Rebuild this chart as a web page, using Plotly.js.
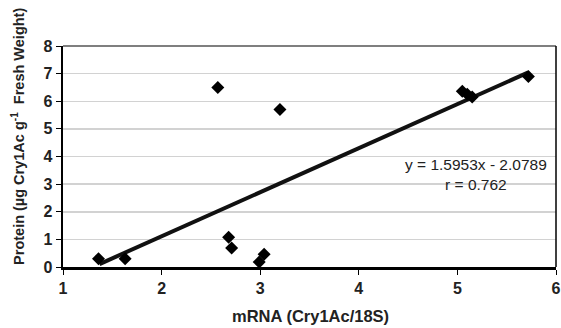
<!DOCTYPE html>
<html>
<head>
<meta charset="utf-8">
<script src="https://cdn.plot.ly/plotly-3.0.1.min.js"></script>
<style>html,body{margin:0;padding:0;background:#fff;}#chart{width:561px;height:328px;}</style>
</head>
<body>
<div id="chart"></div>
<script>
// Observed data (mRNA ratio vs protein)
const mrna    = [1.36, 1.63, 2.57, 2.68, 2.71, 2.99, 3.04, 3.20, 5.05, 5.10, 5.15, 5.72];
const protein = [0.30, 0.30, 6.50, 1.08, 0.69, 0.18, 0.46, 5.70, 6.36, 6.25, 6.15, 6.90];
// Linear fit as reported on the chart
const slope = 1.5953;
const intercept = -2.0789;
const fitX = [1.37, 5.72];
const fitY = fitX.map(x => slope * x + intercept);
const xTicks = [1, 2, 3, 4, 5, 6];
const yTicks = [0, 1, 2, 3, 4, 5, 6, 7, 8];
const eqText = "y = 1.5953x - 2.0789";
const rText = "r = 0.762";

const FONT = "Liberation Sans, Arial, Helvetica, sans-serif";

const traces = [
  {
    x: fitX, y: fitY, mode: "lines", type: "scatter",
    line: {color: "#111", width: 4}, hoverinfo: "skip", showlegend: false
  },
  {
    x: mrna, y: protein, mode: "markers", type: "scatter",
    marker: {symbol: "diamond", size: 10, color: "#000"}, showlegend: false
  }
];

const layout = {
  width: 561, height: 328,
  margin: {l: 63, r: 5, t: 46, b: 61, pad: 0},
  paper_bgcolor: "#fff", plot_bgcolor: "#fff",
  font: {family: FONT, color: "#222"},
  showlegend: false,
  xaxis: {
    range: [1, 6], tickvals: xTicks, ticktext: xTicks.map(v => "<b>" + v + "</b>"),
    showgrid: false, zeroline: false,
    showline: true, linecolor: "#000", linewidth: 2.5,
    ticks: "outside", ticklen: 5, tickwidth: 1, tickcolor: "#000",
    tickfont: {family: FONT, size: 16, color: "#222"},
    fixedrange: true
  },
  yaxis: {
    range: [0, 8], tickvals: yTicks, ticktext: yTicks.map(v => "<b>" + v + "</b>"),
    showgrid: true, gridcolor: "#d2d2d2", gridwidth: 1.5, zeroline: false,
    showline: true, linecolor: "#000", linewidth: 2.5,
    ticks: "outside", ticklen: 5, tickwidth: 1, tickcolor: "#000",
    tickfont: {family: FONT, size: 16, color: "#222"},
    fixedrange: true
  },
  shapes: [
    {type: "line", xref: "paper", yref: "paper", x0: 0, x1: 1, y0: 1, y1: 1,
     line: {color: "#555", width: 1.5}},
    {type: "line", xref: "paper", yref: "paper", x0: 1, x1: 1, y0: 0, y1: 1,
     line: {color: "#000", width: 1.5}}
  ],
  annotations: [
    {text: eqText + "<br>" + rText, x: 5.19, y: 3.35, xref: "x", yref: "y",
     showarrow: false, align: "center", xanchor: "center", yanchor: "middle",
     font: {family: FONT, size: 15.5, color: "#222"}},
    {text: "<b>Protein (µg Cry1Ac g<sup>-1</sup>  Fresh Weight)</b>", textangle: -90,
     xref: "paper", yref: "paper", x: -0.0913, y: 0.593,
     xanchor: "center", yanchor: "middle", showarrow: false,
     font: {family: FONT, size: 14.5, color: "#222"}},
    {text: "<b>mRNA (Cry1Ac/18S)</b>", xref: "paper", yref: "paper",
     x: 0.503, y: -0.222, xanchor: "center", yanchor: "middle", showarrow: false,
     font: {family: FONT, size: 16.5, color: "#222"}}
  ]
};

Plotly.newPlot("chart", traces, layout, {displayModeBar: false, staticPlot: true});
</script>
</body>
</html>
